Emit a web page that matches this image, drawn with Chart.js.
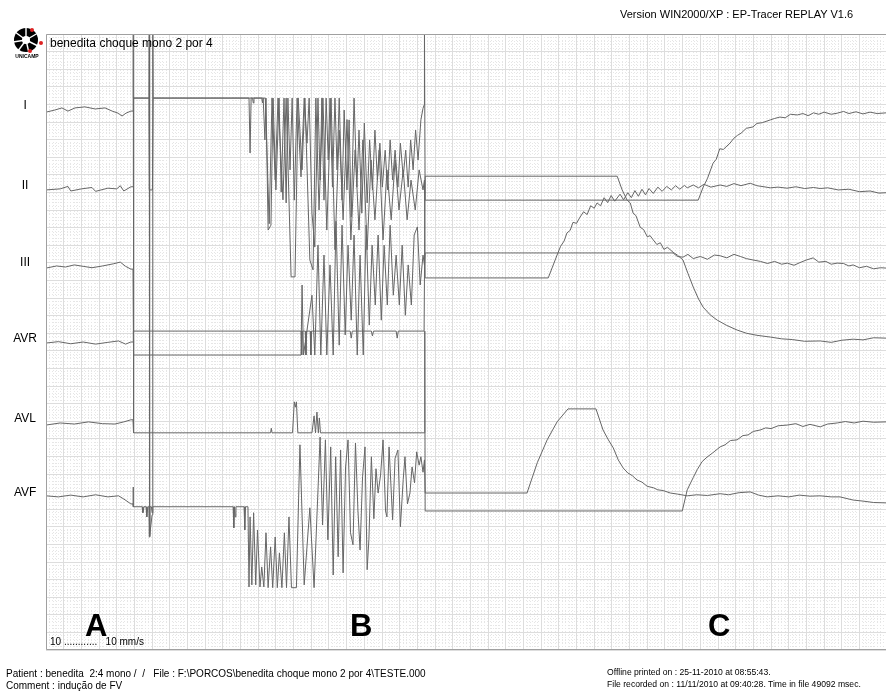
<!DOCTYPE html>
<html>
<head>
<meta charset="utf-8">
<title>EP-Tracer replay - benedita choque mono 2 por 4</title>
<script src="https://cdn.jsdelivr.net/npm/chart.js"></script>
<style>
  body { margin: 0; background: #fff; font-family: 'Liberation Sans', Arial, sans-serif; }
  #page { position: relative; width: 886px; height: 691px; overflow: hidden; }
  #page canvas { position: absolute; left: 0; top: 0; }
  .txt { position: absolute; white-space: pre; color: #000; pointer-events: none; }
  .big { font-weight: bold; font-size: 31px; line-height: 31px; }
</style>
</head>
<body>
<div id="page">
  <canvas id="ecg" width="886" height="691"></canvas>

  <svg class="txt" style="left:8px;top:26px" width="40" height="36" viewBox="0 0 40 36">
    <circle cx="18" cy="14" r="12" fill="#000"/>
    <circle cx="18" cy="14" r="4" fill="#fff"/>
    <g stroke="#fff" stroke-width="1.4">
      <line x1="18" y1="14" x2="18" y2="1"/>
      <line x1="18" y1="14" x2="7" y2="6"/>
      <line x1="18" y1="14" x2="5" y2="16"/>
      <line x1="18" y1="14" x2="10" y2="25"/>
      <line x1="18" y1="14" x2="21" y2="27"/>
      <line x1="18" y1="14" x2="30" y2="20"/>
      <line x1="18" y1="14" x2="30" y2="7"/>
    </g>
    <circle cx="24" cy="4" r="2" fill="#d22"/>
    <circle cx="33" cy="17" r="2" fill="#d22"/>
    <circle cx="22" cy="25" r="2" fill="#d22"/>
    <text x="19" y="32" font-size="5" font-weight="bold" text-anchor="middle" font-family="Liberation Sans, Arial">UNICAMP</text>
  </svg>

  <div class="txt" style="left:620px;top:8px;font-size:11px">Version WIN2000/XP : EP-Tracer REPLAY V1.6</div>
  <div class="txt" style="left:50px;top:36px;font-size:12px">benedita choque mono 2 por 4</div>
  <div class="txt" style="left:50px;top:636px;font-size:10px">10 ............   10 mm/s</div>
  <div class="txt big" style="left:85px;top:610px">A</div>
  <div class="txt big" style="left:350px;top:610px">B</div>
  <div class="txt big" style="left:708px;top:610px">C</div>
  <div class="txt" style="left:6px;top:668px;font-size:10px">Patient : benedita  2:4 mono /  /   File : F:\PORCOS\benedita choque mono 2 por 4\TESTE.000</div>
  <div class="txt" style="left:6px;top:680px;font-size:10px">Comment : indução de FV</div>
  <div class="txt" style="left:607px;top:667px;font-size:8.6px">Offline printed on : 25-11-2010 at 08:55:43.</div>
  <div class="txt" style="left:607px;top:679px;font-size:8.6px">File recorded on : 11/11/2010 at 09:40:28. Time in file 49092 msec.</div>
</div>

<script>
// leads, in display order (tick labels on the left)
const leadNames = ['I', 'II', 'III', 'AVR', 'AVL', 'AVF'];

// each lead: [time (s), amplitude (mV)] (10 mm/s, 10 mm/mV)
const leadI = [
  [0,-0.06],[0.25,0],[0.45,0.06],[0.62,-0.03],[0.82,0.06],[1.10,0.09],[1.39,0.03],[1.67,0.06],[1.87,-0.03],
  [2.04,-0.09],[2.15,-0.17],[2.26,-0.09],[2.40,-0.03],
  [2.46,-0.03],[2.465,2.5],[2.47,0.34],[2.91,0.34],[2.92,3],[2.93,-12.1],[3.00,-11.5],[3.02,3],[3.03,0.34],
  [5.74,0.34],[5.77,-1.22],[5.80,0.34],[5.84,0.34],[5.86,0.20],[5.88,0.34],[6.10,0.34],[6.12,0.20],
  [6.14,0.34],[6.19,-0.85],[6.22,0.34],[6.28,-3.41],[6.36,-3.27],[6.42,0.34],[6.50,-2.27],[6.59,0.34],
  [6.65,-2.33],[6.73,0.34],[6.79,-2.64],[6.84,0.34],[6.90,-1.70],[6.96,0.34],[7.02,-2.56],[7.10,0.34],
  [7.21,-1.90],[7.30,0.34],[7.38,-0.94],[7.44,0.34],[7.52,-2.93],[7.60,-3.89],[7.69,0.34],[7.75,-1.99],
  [7.80,0.34],[7.86,-2.56],[7.92,0.34],[7.98,-1.42],[8.03,0.34],[8.10,-2.19],[8.17,0.34],[8.23,-1.70],
  [8.29,0.34],[8.37,-2.56],[8.43,0.0],[8.51,-2.27],[8.57,-0.28],[8.63,-3.04],[8.71,0.34],[8.79,-2.19],
  [8.85,-0.57],[8.93,-2.93],[9.00,-0.37],[9.08,-2.64],[9.15,-0.85],[9.23,-2.27],[9.30,-0.57],[9.37,-1.99],
  [9.44,-0.94],[9.51,-2.19],[9.59,-1.14],[9.66,-2.27],[9.73,-0.85],[9.80,-1.99],[9.87,-1.14],[9.95,-2.19],
  [10.02,-0.94],[10.10,-1.90],[10.17,-1.14],[10.24,-2.19],[10.31,-0.85],[10.38,-1.70],[10.45,-0.57],
  [10.52,-1.42],[10.60,-0.28],[10.66,0.05],[10.69,0.14],[10.70,2.5],
  [10.72,-2.56],[18.44,-2.56],[18.58,-2.19],[18.70,-1.95],[18.86,-1.51],[18.95,-1.40],[19.05,-1.10],
  [19.15,-1.12],[19.34,-0.94],[19.45,-0.80],[19.55,-0.72],[19.65,-0.66],[19.80,-0.52],[19.99,-0.48],
  [20.10,-0.38],[20.25,-0.36],[20.48,-0.28],[20.60,-0.24],[20.75,-0.20],[20.90,-0.22],[21.05,-0.12],
  [21.24,-0.14],[21.40,-0.10],[21.55,-0.16],[21.70,-0.08],[21.85,-0.12],[22.00,-0.06],[22.20,-0.12],
  [22.37,-0.09],[22.55,-0.04],[22.70,-0.10],[22.90,-0.05],[23.10,-0.11],[23.30,-0.06],[23.50,-0.10],[23.75,-0.08]
];

const leadII = [
  [0,0],[0.40,0.03],[0.62,0.10],[0.70,-0.03],[1.00,0.03],[1.30,0.07],[1.40,-0.04],[1.75,0.05],[2.00,0.03],
  [2.10,0.12],[2.20,-0.03],[2.40,0.09],
  [2.46,0.09],[2.47,2.61],[2.91,2.61],[2.92,0],[3.01,0],[3.03,2.61],
  [6.20,2.61],[6.31,-0.96],[6.39,2.61],[6.48,0.28],[6.56,2.61],[6.70,-0.28],[6.79,2.61],[6.93,-2.47],
  [7.04,-2.47],[7.13,2.61],[7.24,0.57],[7.32,2.61],[7.46,-1.99],[7.55,-2.27],[7.63,2.61],[7.72,-0.57],
  [7.83,2.61],[7.94,-1.14],[8.06,2.61],[8.17,-1.70],[8.29,1.70],[8.40,-0.85],[8.51,2.00],[8.62,-1.42],
  [8.74,1.14],[8.85,-1.14],[8.96,1.42],[9.08,-1.70],[9.19,0.85],[9.30,-0.85],[9.42,1.14],[9.53,-1.42],
  [9.64,0.57],[9.76,-0.85],[9.87,0.85],[9.98,-0.57],[10.10,0.57],[10.21,-0.85],[10.32,0.28],[10.44,-0.57],
  [10.55,0.57],[10.66,0.0],[10.70,0.28],
  [10.72,-2.50],[14.20,-2.50],[14.45,-1.85],[14.55,-1.60],[14.65,-1.45],[14.73,-1.22],[14.82,-1.15],
  [14.90,-0.92],[15.00,-0.95],[15.10,-0.77],[15.20,-0.62],[15.30,-0.70],[15.40,-0.45],[15.50,-0.52],
  [15.58,-0.37],[15.68,-0.45],[15.78,-0.22],[15.88,-0.36],[15.98,-0.16],[16.08,-0.32],[16.23,-0.12],
  [16.33,-0.28],[16.45,-0.08],[16.55,-0.22],[16.65,-0.02],[16.75,-0.18],[16.85,0.02],[16.95,-0.14],
  [17.05,0.04],[17.17,-0.10],[17.30,0.08],[17.42,-0.04],[17.55,0.10],[17.68,0.0],[17.80,0.12],[17.92,0.02],
  [18.05,0.13],[18.13,0.06],[18.30,0.14],[18.45,0.06],[18.60,0.16],[18.80,0.08],[19.06,0.14],[19.25,0.10],
  [19.45,0.18],[19.65,0.12],[19.91,0.19],[20.10,0.12],[20.30,0.09],[20.48,0.06],[20.70,0.08],[20.95,0.05],
  [21.20,0.09],[21.45,0.04],[21.70,0.07],[21.89,0.04],[22.10,0.06],[22.40,0.0],[22.70,0.02],[23.00,-0.05],
  [23.30,-0.03],[23.55,-0.09],[23.75,-0.08]
];

const leadIII = [
  [0,-0.03],[0.30,0.03],[0.55,0.0],[0.80,0.06],[1.05,0.02],[1.30,-0.02],[1.60,0.03],[1.90,0.09],[2.10,0.14],
  [2.25,0.02],[2.40,-0.06],
  [2.46,-0.06],[2.47,4.83],[2.48,-2.50],
  [7.21,-2.50],[7.24,-0.51],[7.28,-2.50],[7.52,-0.80],[7.60,-2.50],[7.69,0.62],[7.77,-2.50],[7.86,0.34],
  [7.94,-2.50],[8.03,0.06],[8.12,-2.50],[8.20,1.30],[8.29,-2.22],[8.37,1.19],[8.46,-1.93],[8.54,0.62],
  [8.63,-1.51],[8.71,0.91],[8.80,-2.50],[8.88,0.34],[8.97,-2.50],[9.05,1.19],[9.14,-1.65],[9.22,0.62],
  [9.31,-1.08],[9.39,0.91],[9.48,-1.51],[9.56,0.62],[9.65,-1.08],[9.73,1.19],[9.82,-0.80],[9.90,0.34],
  [9.99,-1.08],[10.07,0.62],[10.16,-1.37],[10.24,0.06],[10.33,-1.08],[10.41,0.91],[10.50,1.14],
  [10.58,-0.51],[10.66,0.34],[10.70,0.06],
  [10.72,0.40],[17.73,0.40],[17.85,0.30],[18.01,0.28],[18.15,0.36],[18.30,0.24],[18.50,0.30],[18.70,0.22],
  [18.90,0.34],[19.06,0.32],[19.25,0.26],[19.45,0.36],[19.63,0.30],[19.80,0.24],[19.99,0.20],[20.20,0.16],
  [20.40,0.10],[20.60,0.16],[20.80,0.08],[20.96,0.11],[21.15,0.05],[21.35,0.14],[21.50,0.20],[21.69,0.26],
  [21.85,0.14],[22.05,0.16],[22.20,0.08],[22.37,0.11],[22.55,0.10],[22.70,0.03],[22.82,0.06],[23.00,-0.02],
  [23.20,0.02],[23.40,-0.05],[23.60,-0.02],[23.75,-0.03]
];

const leadAVR = [
  [0,0],[0.35,0.04],[0.70,-0.02],[1.05,0.03],[1.40,-0.03],[1.75,0.02],[2.05,0.06],[2.25,-0.03],[2.40,0.03],
  [2.46,0.03],[2.47,0.34],
  [7.21,0.34],[7.23,-0.34],[7.25,0.34],[7.33,0.34],[7.35,-0.34],[7.37,0.34],[7.47,0.34],[7.49,-0.34],[7.51,0.34],
  [8.60,0.34],[8.63,0.14],[8.66,0.34],[9.20,0.34],[9.23,0.20],[9.26,0.34],[9.90,0.34],[9.93,0.14],[9.96,0.34],
  [10.69,0.34],
  [10.72,4.74],[16.15,4.74],[16.29,4.35],[16.43,4.06],[16.52,3.98],[16.60,3.69],[16.68,3.62],[16.80,3.29],
  [16.90,3.22],[17.00,3.02],[17.08,3.05],[17.17,2.93],[17.27,2.80],[17.37,2.85],[17.47,2.66],[17.57,2.72],
  [17.73,2.58],[17.85,2.50],[18.01,2.36],[18.15,1.98],[18.30,1.59],[18.45,1.25],[18.58,1.02],[18.78,0.80],
  [18.98,0.65],[19.25,0.50],[19.54,0.37],[19.80,0.28],[20.10,0.22],[20.48,0.17],[20.80,0.12],[21.10,0.10],
  [21.45,0.05],[21.89,0.06],[22.20,0.02],[22.50,0.08],[22.82,0.11],[23.10,0.09],[23.40,0.15],[23.75,0.14]
];

const leadAVL = [
  [0,-0.06],[0.40,0.0],[0.80,-0.03],[1.20,0.03],[1.60,-0.02],[1.95,-0.03],[2.20,0.03],[2.40,0.09],
  [2.46,0.09],[2.47,2.36],[2.48,-0.28],
  [6.35,-0.28],[6.37,-0.15],[6.39,-0.28],
  [6.97,-0.28],[7.02,0.60],[7.05,0.45],[7.08,0.60],[7.12,-0.28],
  [7.52,-0.28],[7.58,0.20],[7.62,-0.28],[7.66,0.31],[7.70,-0.28],[7.73,0.14],[7.76,-0.28],
  [10.70,-0.28],[10.71,2.61],[10.72,-2.50],
  [17.99,-2.50],[18.13,-1.90],[18.30,-1.55],[18.41,-1.33],[18.55,-1.10],[18.69,-0.97],[18.85,-0.85],
  [19.06,-0.68],[19.20,-0.62],[19.35,-0.50],[19.54,-0.48],[19.70,-0.36],[19.85,-0.34],[20.00,-0.24],
  [20.19,-0.20],[20.35,-0.14],[20.50,-0.16],[20.70,-0.08],[20.96,-0.06],[21.20,-0.02],[21.40,-0.10],
  [21.60,-0.04],[21.89,-0.11],[22.10,-0.03],[22.37,0],[22.60,0.04],[22.85,0.0],[23.10,0.05],[23.40,0.02],[23.75,0.03]
];

const leadAVF = [
  [0,0.03],[0.35,0.0],[0.70,0.05],[1.05,0.0],[1.40,0.06],[1.75,0.0],[2.05,0.03],[2.20,-0.06],[2.40,-0.20],
  [2.46,-0.20],[2.465,0.28],[2.47,-0.28],
  [2.72,-0.28],[2.74,-0.45],[2.77,-0.28],[2.83,-0.28],[2.85,-0.57],[2.88,-0.28],[2.91,-0.28],[2.92,-1.14],
  [2.94,-0.28],[2.98,-0.28],[3.00,-0.45],[3.02,-0.28],
  [5.29,-0.28],[5.31,-0.88],[5.33,-0.28],[5.35,-0.57],[5.37,-0.28],
  [5.60,-0.28],[5.62,-0.94],[5.64,-0.28],
  [5.71,-0.28],[5.74,-2.56],[5.77,-0.57],[5.82,-2.50],[5.87,-0.45],[5.93,-2.50],[5.98,-0.94],[6.05,-2.56],
  [6.10,-1.99],[6.16,-2.56],
  [6.22,-1.02],[6.28,-2.58],[6.35,-1.42],[6.41,-2.58],[6.48,-1.14],[6.54,-2.58],[6.60,-1.59],[6.67,-2.58],
  [6.74,-1.02],[6.80,-2.58],[6.87,-0.57],[6.94,-2.58],[7.08,-2.58],
  [7.18,1.48],[7.30,-2.50],[7.46,-0.31],[7.58,-2.58],
  [7.75,1.70],[7.82,-0.80],[7.90,1.62],[7.97,-1.22],[8.05,1.42],[8.12,-2.22],[8.19,1.14],[8.26,-1.70],
  [8.33,1.33],[8.40,-2.16],[8.47,0.85],[8.54,1.62],[8.61,-1.02],[8.68,-1.36],[8.75,1.53],[8.82,-0.40],
  [8.88,-1.51],[8.95,0.57],[9.02,1.42],[9.08,-2.07],[9.13,-1.20],[9.20,1.14],[9.27,-0.62],[9.33,0.80],
  [9.39,0.11],[9.46,0.62],[9.53,1.62],[9.60,-0.40],[9.64,-0.57],[9.70,1.42],[9.80,-0.65],[9.87,1.10],
  [9.95,1.33],[10.02,-0.85],[10.10,0.50],[10.15,1.14],[10.22,-0.20],[10.29,0.11],[10.35,0.85],[10.42,0.40],
  [10.48,1.28],[10.55,0.90],[10.60,1.14],[10.66,0.70],[10.70,1.05],
  [10.72,0.11],[13.60,0.11],[13.89,0.97],[14.17,1.62],[14.45,2.13],[14.76,2.50],[15.55,2.50],[15.75,1.90],
  [15.90,1.62],[16.04,1.39],[16.18,1.05],[16.32,0.82],[16.45,0.68],[16.58,0.60],[16.71,0.48],[16.85,0.42],
  [17.00,0.30],[17.17,0.26],[17.30,0.20],[17.45,0.18],[17.65,0.11],[17.85,0.08],[18.13,0.03],[18.40,0.06],
  [18.70,0.04],[19.06,0.09],[19.30,0.06],[19.60,0.12],[19.91,0.14],[20.15,0.05],[20.39,0.0],[20.70,0.03],
  [21.00,0.0],[21.30,0.05],[21.60,0.02],[21.89,0.03],[22.20,0.0],[22.45,0.0],[22.82,-0.09],[23.10,-0.12],
  [23.40,-0.16],[23.75,-0.17]
];

const leads = [leadI, leadII, leadIII, leadAVR, leadAVL, leadAVF];

// layout: where each lead's baseline sits on the strip (mV above the bottom edge)
const leadOffsets = [15.34, 13.07, 10.88, 8.72, 6.45, 4.35];

const datasets = leads.map((pts, i) => ({
  label: leadNames[i],
  data: pts.map(p => ({ x: p[0], y: leadOffsets[i] + p[1] })),
  borderColor: '#666666',
  borderWidth: 1,
  pointRadius: 0,
  tension: 0,
  fill: false
}));

// paper frame (left, top, bottom edges)
const framePlugin = {
  id: 'frame',
  afterDraw(chart) {
    const { ctx, chartArea: a } = chart;
    ctx.save();
    ctx.strokeStyle = '#a0a0a0';
    ctx.lineWidth = 1;
    ctx.beginPath();
    ctx.moveTo(a.right, a.top + 0.5);
    ctx.lineTo(a.left + 0.5, a.top + 0.5);
    ctx.lineTo(a.left + 0.5, a.bottom - 0.5);
    ctx.lineTo(a.right, a.bottom - 0.5);
    ctx.stroke();
    ctx.restore();
  }
};

const hidden = { display: false };

new Chart(document.getElementById('ecg'), {
  type: 'line',
  data: { datasets: datasets },
  options: {
    responsive: false,
    animation: false,
    devicePixelRatio: 1,
    layout: { padding: { left: 0, top: 34, right: 0, bottom: 41 } },
    plugins: { legend: hidden, tooltip: { enabled: false } },
    scales: {
      xMinor: {
        type: 'linear', position: 'bottom', min: 0, max: 23.75,
        ticks: { display: false, stepSize: 0.1 },
        grid: { color: '#e6e6e6', drawTicks: false },
        border: { display: false, dash: [1, 2] }
      },
      yMinor: {
        type: 'linear', position: 'left', min: 0, max: 17.5,
        ticks: { display: false, stepSize: 0.1 },
        grid: { color: '#e6e6e6', drawTicks: false },
        border: { display: false, dash: [1, 2] }
      },
      x: {
        type: 'linear', position: 'bottom', min: 0, max: 23.75,
        ticks: { display: false, stepSize: 0.5 },
        grid: { color: '#dddddd', drawTicks: false },
        border: { display: false }
      },
      y: {
        type: 'linear', position: 'left', min: 0, max: 17.5,
        ticks: { display: false, stepSize: 0.5 },
        grid: { color: '#dddddd', drawTicks: false },
        border: { display: false }
      },
      yLeads: {
        type: 'linear', position: 'left', min: 0, max: 17.5,
        grid: { display: false, drawTicks: false },
        border: { display: false },
        afterBuildTicks: scale => { scale.ticks = leadOffsets.map(v => ({ value: v })); },
        afterFit: scale => { scale.width = 46; },
        ticks: {
          autoSkip: false,
          callback: (value, index) => leadNames[index],
          crossAlign: 'center',
          padding: 9,
          labelOffset: -4,
          color: '#000',
          font: { family: 'Liberation Sans, Arial', size: 12 }
        }
      }
    }
  },
  plugins: [framePlugin]
});
</script>
</body>
</html>
